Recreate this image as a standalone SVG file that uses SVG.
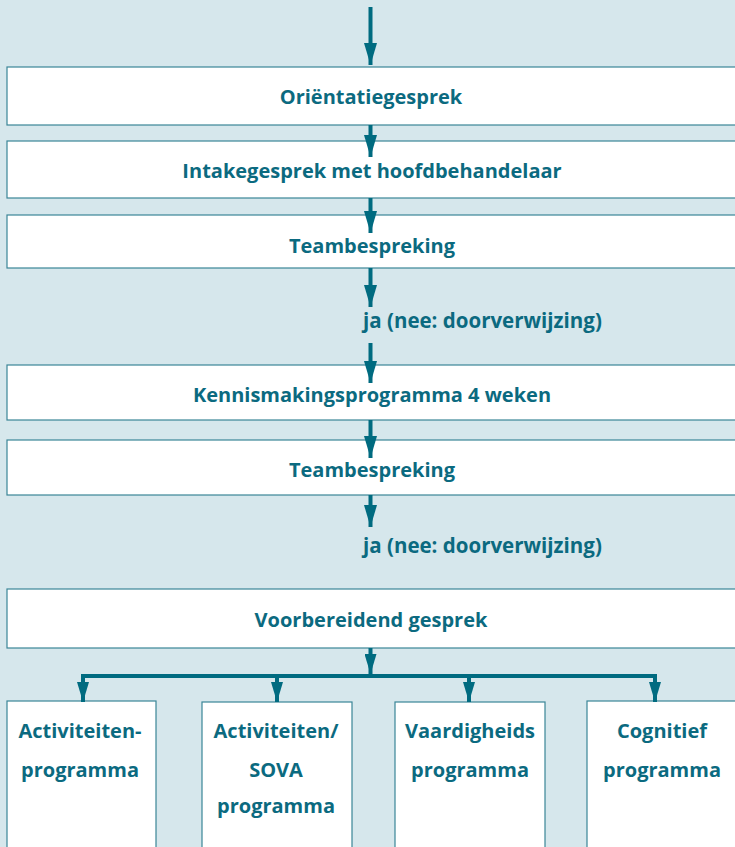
<svg xmlns="http://www.w3.org/2000/svg" width="735" height="847" viewBox="0 0 735 847">
<defs>
<marker id="ah" markerUnits="userSpaceOnUse" markerWidth="22" markerHeight="13" viewBox="0 0 22 13" refX="22" refY="6.5" orient="auto"><path d="M0,0 L22,6.5 L0,13 z" fill="#006b80"/></marker>
<marker id="ahs" markerUnits="userSpaceOnUse" markerWidth="20" markerHeight="12" viewBox="0 0 20 12" refX="20" refY="6" orient="auto"><path d="M0,0 L20,6 L0,12 z" fill="#006b80"/></marker>
<style>
.box{fill:#ffffff;stroke:#3a8597;stroke-width:1.2}
.t{font-family:"Open Sans","Liberation Sans",sans-serif;font-weight:700;font-size:20px;fill:#0b6a80;text-anchor:middle}
.l{text-anchor:start;font-size:20.5px}
.c{stroke:#006b80;stroke-width:4;fill:none}
.a{marker-end:url(#ah)}
.s{marker-end:url(#ahs)}
</style>
</defs>
<rect x="0" y="0" width="735" height="847" fill="#d6e7ec"/>
<g id="n1"><rect class="box" x="7" y="67" width="740" height="58"/><text class="t" x="371" y="104">Oriëntatiegesprek</text></g>
<g id="n2"><rect class="box" x="7" y="141" width="740" height="57"/><text class="t" x="372" y="178">Intakegesprek met hoofdbehandelaar</text></g>
<g id="n3"><rect class="box" x="7" y="215" width="740" height="53"/><text class="t" x="372" y="253">Teambespreking</text></g>
<g id="l1"><text class="t l" x="363" y="328">ja (nee: doorverwijzing)</text></g>
<g id="n4"><rect class="box" x="7" y="365" width="740" height="55"/><text class="t" x="372" y="402">Kennismakingsprogramma 4 weken</text></g>
<g id="n5"><rect class="box" x="7" y="440" width="740" height="55"/><text class="t" x="372" y="477">Teambespreking</text></g>
<g id="l2"><text class="t l" x="363" y="553">ja (nee: doorverwijzing)</text></g>
<g id="n6"><rect class="box" x="7" y="589" width="740" height="59"/><text class="t" x="371" y="627">Voorbereidend gesprek</text></g>
<g id="n7"><rect class="box" x="7" y="701" width="149" height="160"/><text class="t" x="80" y="738">Activiteiten-</text><text class="t" x="80" y="777">programma</text></g>
<g id="n8"><rect class="box" x="202" y="702" width="150" height="160"/><text class="t" x="276" y="738">Activiteiten/</text><text class="t" x="276" y="777">SOVA</text><text class="t" x="276" y="813">programma</text></g>
<g id="n9"><rect class="box" x="395" y="702" width="150" height="160"/><text class="t" x="470" y="738">Vaardigheids</text><text class="t" x="470" y="777">programma</text></g>
<g id="n10"><rect class="box" x="587" y="701" width="160" height="160"/><text class="t" x="662" y="738">Cognitief</text><text class="t" x="662" y="777">programma</text></g>
<g id="connectors">
<line class="c a" x1="370.5" y1="7" x2="370.5" y2="65"/>
<line class="c a" x1="370.5" y1="125" x2="370.5" y2="157"/>
<line class="c a" x1="370.5" y1="198" x2="370.5" y2="233"/>
<line class="c a" x1="370.5" y1="268" x2="370.5" y2="307"/>
<line class="c a" x1="370.5" y1="343" x2="370.5" y2="383"/>
<line class="c a" x1="370.5" y1="420" x2="370.5" y2="458"/>
<line class="c a" x1="370.5" y1="495" x2="370.5" y2="527"/>
<line class="c s" x1="370.5" y1="648" x2="370.5" y2="674"/>
<line class="c" x1="81" y1="676" x2="657" y2="676"/>
<line class="c s" x1="83" y1="676" x2="83" y2="702"/>
<line class="c s" x1="277" y1="676" x2="277" y2="702"/>
<line class="c s" x1="469" y1="676" x2="469" y2="702"/>
<line class="c s" x1="655" y1="676" x2="655" y2="702"/>
</g>
</svg>
